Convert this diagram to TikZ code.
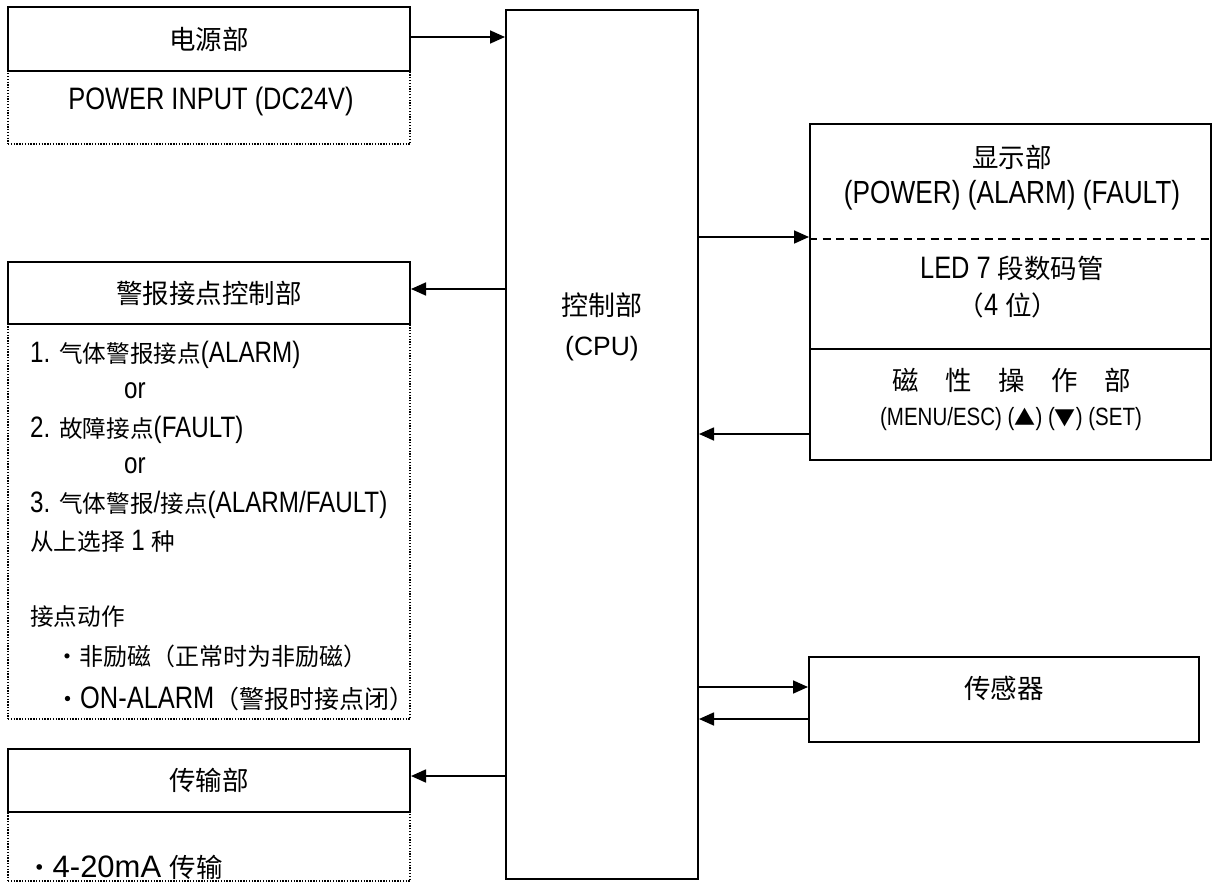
\documentclass[tikz,border=0pt]{standalone}
\usepackage{fontspec}
\setmainfont{Liberation Sans}[FakeStretch=0.82]
\newfontfamily\wide{Liberation Sans}
\newfontfamily\cjk{Noto Sans CJK SC}
\usetikzlibrary{arrows.meta}
\newcommand\zh[2][23.6]{{\cjk\fontsize{#1}{#1}\selectfont #2}}
\newcommand\fs[1]{\fontsize{#1}{#1}\selectfont}
\tikzset{
  box/.style={draw, rectangle, line width=2pt, inner sep=0pt},
  dotbox/.style={draw, rectangle, line width=1.3pt, dash pattern=on 1.3pt off 1.5pt, inner sep=0pt},
  arr/.style={-{Triangle[length=15pt,width=13pt]}, line width=1.7pt},
  txt/.style={inner sep=0pt, anchor=base},
  ltxt/.style={inner sep=0pt, anchor=base west},
}
\begin{document}
\begin{tikzpicture}[x=1pt,y=-1pt]
\useasboundingbox (0,0) rectangle (1215,883);
% power
\node[dotbox, minimum width=402pt, minimum height=73pt] (powerd) at (209,107.5) {};
\node[box, minimum width=402pt, minimum height=64pt, font=\cjk\fs{26.5}] (power) at (209,39) {电源部};
\node[txt, font=\fs{31}] (powert) at (211,109) {POWER INPUT (DC24V)};
% alarm
\node[dotbox, minimum width=402pt, minimum height=395pt] (alarmd) at (209,521.5) {};
\node[box, minimum width=402pt, minimum height=62pt, font=\cjk\fs{26.5}] (alarm) at (209,293) {警报接点控制部};
\node[ltxt, font=\fs{29.5}] (l1) at (30,362) {1. \zh{气体警报接点}(ALARM)};
\node[ltxt, font=\fs{29.5}] (l2) at (124,398) {or};
\node[ltxt, font=\fs{29.5}] (l3) at (30,437) {2. \zh{故障接点}(FAULT)};
\node[ltxt, font=\fs{29.5}] (l4) at (124,473) {or};
\node[ltxt, font=\fs{29.5}] (l5) at (30,512) {3. \zh{气体警报}/\zh{接点}(ALARM/FAULT)};
\node[ltxt, font=\fs{29.5}] (l6) at (30,550) {\zh{从上选择} 1 \zh{种}};
\node[ltxt] (l7) at (30,625) {\zh{接点动作}};
\node[ltxt] (l8) at (55,665) {\zh[24]{・非励磁（正常时为非励磁）}};
\node[ltxt, font=\fs{31}] (l9) at (55,708) {\zh[25]{・}ON-ALARM\zh[25]{（警报时接点闭）}};
% transmission
\node[dotbox, minimum width=402pt, minimum height=69pt] (transd) at (209,846.5) {};
\node[box, minimum width=402pt, minimum height=63pt, font=\cjk\fs{26.5}] (trans) at (209,780.5) {传输部};
\node[ltxt, font=\wide\fs{31}] (t1) at (26,877) {\zh[26.5]{・}4-20mA \zh[26.5]{传输}};
% cpu
\node[box, minimum width=192pt, minimum height=869pt] (cpu) at (602,444.5) {};
\node[txt] (cput1) at (602,315) {\zh[27]{控制部}};
\node[txt, font=\wide\fs{26.5}] (cput2) at (602,355) {(CPU)};
% display
\node[box, minimum width=401pt, minimum height=336pt] (disp) at (1010.5,292) {};
\draw[line width=1.5pt, dash pattern=on 8pt off 5.5pt] (disp.west |- 0,239) -- (disp.east |- 0,239);
\draw[line width=2pt] (disp.west |- 0,349) -- (disp.east |- 0,349);
\node[txt] (d1) at (1012,167) {\zh[26.5]{显示部}};
\node[txt, font=\fs{32}] (d2) at (1012,203) {(POWER) (ALARM) (FAULT)};
\node[txt, font=\fs{31}] (d3) at (1012,278) {LED 7 \zh[26.5]{段数码管}};
\node[txt, font=\fs{31}] (d4) at (1008,315) {\zh[26.5]{（}4 \zh[26.5]{位）}};
\node[txt] (d5) at (1012,390) {\zh[26.5]{磁　性　操　作　部}};
\node[txt, font=\fs{25}] (d6) at (1011,425) {(MENU/ESC) (\zh[21]{▲}) (\zh[21]{▼}) (SET)};
% sensor
\node[box, minimum width=390pt, minimum height=85pt] (sens) at (1004,699.5) {};
\node[txt] (s1) at (1004,698) {\zh[26.5]{传感器}};
% connectors
\coordinate (pa) at (power.east |- 0,37);
\draw[arr] (pa) -- (pa -| cpu.west);
\coordinate (ca) at (cpu.west |- 0,289);
\draw[arr] (ca) -- (ca -| alarm.east);
\coordinate (ct) at (cpu.west |- 0,776);
\draw[arr] (ct) -- (ct -| trans.east);
\coordinate (cd) at (cpu.east |- 0,237);
\draw[arr] (cd) -- (cd -| disp.west);
\coordinate (dc) at (disp.west |- 0,434);
\draw[arr] (dc) -- (dc -| cpu.east);
\coordinate (cs) at (cpu.east |- 0,687);
\draw[arr] (cs) -- (cs -| sens.west);
\coordinate (sc) at (sens.west |- 0,719);
\draw[arr] (sc) -- (sc -| cpu.east);
\end{tikzpicture}
\end{document}
